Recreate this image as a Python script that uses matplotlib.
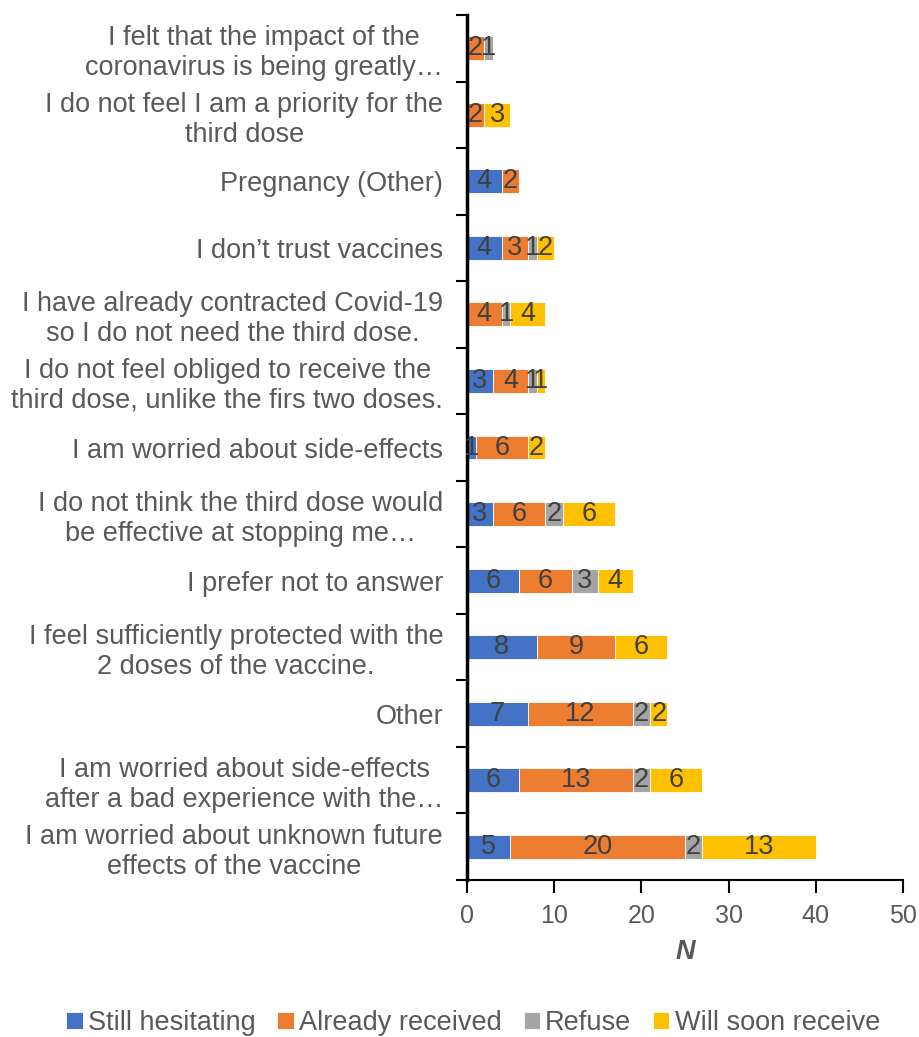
import matplotlib
matplotlib.use("Agg")
import matplotlib.pyplot as plt
import numpy as np

plt.rcParams['font.family'] = ['Liberation Sans', 'DejaVu Sans']

categories = [
    "I am worried about unknown future\neffects of the vaccine",
    "I am worried about side-effects\nafter a bad experience with the…",
    "Other",
    "I feel sufficiently protected with the\n2 doses of the vaccine.",
    "I prefer not to answer",
    "I do not think the third dose would\nbe effective at stopping me…",
    "I am worried about side-effects",
    "I do not feel obliged to receive the\nthird dose, unlike the firs two doses.",
    "I have already contracted Covid-19\nso I do not need the third dose.",
    "I don’t trust vaccines",
    "Pregnancy (Other)",
    "I do not feel I am a priority for the\nthird dose",
    "I felt that the impact of the\ncoronavirus is being greatly…",
]
series_names = ["Still hesitating", "Already received", "Refuse", "Will soon receive"]
still_hesitating = [5, 6, 7, 8, 6, 3, 1, 3, 0, 4, 4, 0, 0]
already_received = [20, 13, 12, 9, 6, 6, 6, 4, 4, 3, 2, 2, 2]
refuse = [2, 2, 2, 0, 3, 2, 0, 1, 1, 1, 0, 0, 1]
will_soon = [13, 6, 2, 6, 4, 6, 2, 1, 4, 2, 0, 3, 0]
colors = ["#4472C4", "#ED7D31", "#A5A5A5", "#FFC000"]

FS = 19.5
fig = plt.figure(figsize=(9.19, 10.37), dpi=100)
ax = fig.add_axes([0.508, 0.1514, 0.4746, 0.8341])

y = np.arange(len(categories))
left = np.zeros(len(categories))
handles = []
for name, vals, c in zip(series_names, [still_hesitating, already_received, refuse, will_soon], colors):
    vals = np.array(vals, dtype=float)
    bars = ax.barh(y, vals, left=left, height=0.36, color=c, edgecolor="white",
                   linewidth=0.6, label=name)
    handles.append(bars)
    for yi, v, l in zip(y, vals, left):
        if v > 0:
            ax.text(l + v / 2, yi, f"{int(v)}", ha="center", va="center",
                    fontsize=FS, color="#404040")
    left += vals

ax.set_xlim(0, 50)
ax.set_ylim(-0.5, len(categories) - 0.5)
ax.set_xticks(range(0, 51, 10))
ax.tick_params(axis='x', labelsize=18, labelcolor="#595959", color='black',
               length=9, width=1.5, direction='out', pad=8)
ax.set_yticks(y)
ax.set_yticklabels(categories, fontsize=FS, color="#595959")
ax.tick_params(axis='y', which='major', length=0, pad=17)
ax.set_yticks(np.arange(-0.5, len(categories), 1), minor=True)
ax.tick_params(axis='y', which='minor', length=8, width=1.5, color='black', direction='out')
for lab in ax.get_yticklabels():
    lab.set_horizontalalignment('right')
    lab.set_multialignment('center')

for s in ['top', 'right']:
    ax.spines[s].set_visible(False)
ax.spines['left'].set_linewidth(2.5)
ax.spines['bottom'].set_linewidth(1.5)

ax.set_xlabel("N", fontsize=FS, fontweight='bold', fontstyle='italic', color="#595959", labelpad=8)

fig.legend(handles=handles, labels=series_names, loc='center', bbox_to_anchor=(0.515, 0.0135),
           ncol=4, frameon=False, fontsize=FS, labelcolor="#595959",
           handlelength=0.6, handleheight=0.6, handletextpad=0.2, columnspacing=0.8)

fig.savefig("out.png", dpi=100)
